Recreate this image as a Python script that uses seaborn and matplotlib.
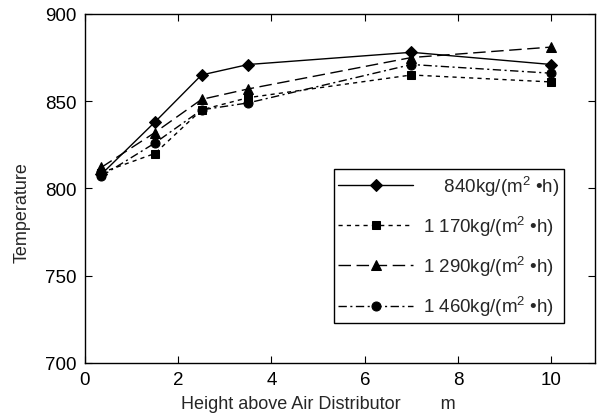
import matplotlib
matplotlib.use("Agg")
import matplotlib.pyplot as plt
import seaborn as sns
import pandas as pd

# 데이터
height = [0.35, 1.5, 2.5, 3.5, 7.0, 10.0]
t_840 = [808, 838, 865, 871, 878, 871]
t_1170 = [809, 820, 845, 852, 865, 861]
t_1290 = [812, 832, 851, 857, 875, 881]
t_1460 = [807, 826, 845, 849, 871, 866]
labels = ["    840kg/(m$^{2}$ •h)", "1 170kg/(m$^{2}$ •h)",
          "1 290kg/(m$^{2}$ •h)", "1 460kg/(m$^{2}$ •h)"]

sns.set_style("ticks")
plt.rcParams["font.family"] = ["Liberation Sans", "DejaVu Sans"]
plt.rcParams["mathtext.fontset"] = "custom"
plt.rcParams["mathtext.rm"] = "Liberation Sans"
plt.rcParams["mathtext.it"] = "Liberation Sans"

df = pd.DataFrame({
    "height": height * 4,
    "temp": t_840 + t_1170 + t_1290 + t_1460,
    "flow": [l for l in labels for _ in height],
})

fig = plt.figure(figsize=(6.02, 4.14), dpi=100)
ax = fig.add_axes([0.141, 0.121, 0.847, 0.843])

styles = ["-", (0, (3, 3)), (0, (9, 4)), (0, (6, 2.5, 1.5, 2.5))]
markers = ["D", "s", "^", "o"]
msizes = [6, 6, 6.5, 6.5]
for lab, ls, mk, ms in zip(labels, styles, markers, msizes):
    sub = df[df["flow"] == lab]
    sns.lineplot(data=sub, x="height", y="temp", ax=ax, color="black",
                 linestyle=ls, marker=mk, markersize=ms, markeredgecolor="black",
                 linewidth=1.0, label=lab)

ax.set_xlim(0, 10.93)
ax.set_ylim(700, 900)
ax.set_xticks([0, 2, 4, 6, 8, 10])
ax.set_yticks([700, 750, 800, 850, 900])
ax.tick_params(direction="in", top=True, right=True, labelsize=13.5, length=5,
               color="black", labelcolor="black")
ax.tick_params(axis="x", pad=6)
ax.tick_params(axis="y", pad=6)
for sp in ax.spines.values():
    sp.set_color("black")
    sp.set_linewidth(1)

ax.set_xlabel("Height above Air Distributor        m", fontsize=13)
ax.xaxis.set_label_coords(0.457, -0.093)
ax.set_ylabel("Temperature", fontsize=13)
ax.yaxis.set_label_coords(-0.107, 0.435)

leg = ax.legend(loc="lower right", bbox_to_anchor=(0.939, 0.115), fontsize=13.5,
                handlelength=4.0, labelspacing=0.85, borderpad=0.25,
                frameon=True, fancybox=False, edgecolor="black",
                handletextpad=0.5, borderaxespad=0)
leg.get_frame().set_linewidth(1)
leg.get_frame().set_alpha(1)

fig.savefig("out.png", dpi=100)
